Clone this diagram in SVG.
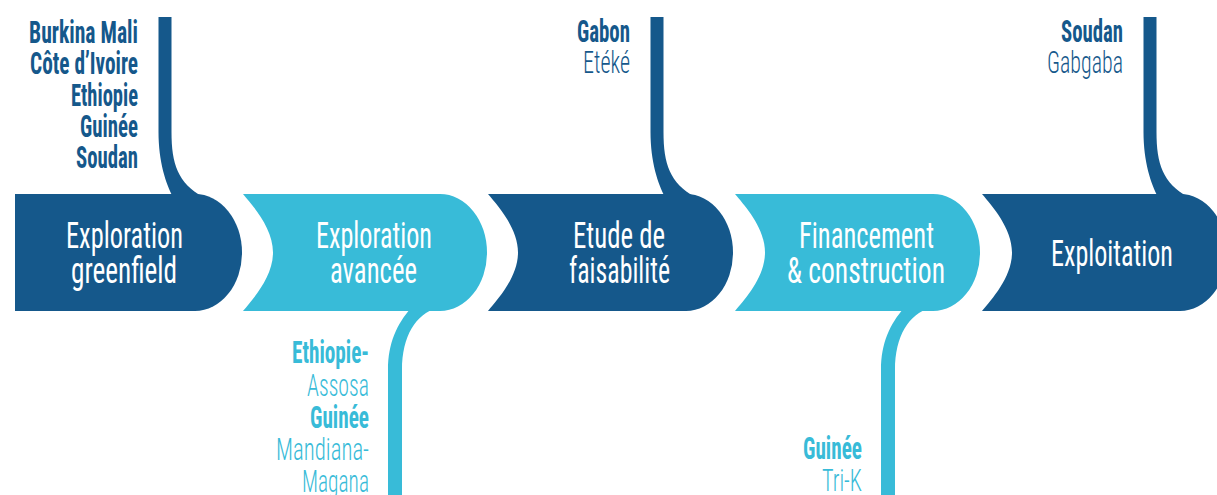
<svg xmlns="http://www.w3.org/2000/svg" width="1217" height="495" viewBox="0 0 1217 495">
  <style>
    .dark { fill: #15588b; }
    .light { fill: #38bbd8; }
    text { font-family: 'Roboto Condensed', 'Liberation Sans Narrow', 'DejaVu Sans Condensed', Roboto, sans-serif; }
    .box-label { fill: #ffffff; font-size: 36px; font-weight: 400; }
    .lbl { font-size: 31px; }
    .b { font-weight: 700; }
    .l { font-weight: 300; }
    .tdark { fill: #15588b; }
    .tlight { fill: #38bbd8; }
  </style>
  <rect x="0" y="0" width="1217" height="495" fill="#ffffff"/>

  <g id="connectors">
    <path class="dark" d="M158.5,17 H171.5 V132 C171.5,164 178,183 203,197 H173 C166,184 158.5,162 158.5,132 Z"/>
    <path class="dark" d="M650.5,17 H663.5 V132 C663.5,164 670,183 695,197 H665 C658,184 650.5,162 650.5,132 Z"/>
    <path class="dark" d="M1143.5,17 H1156.5 V132 C1156.5,164 1163,183 1188,197 H1158 C1151,184 1143.5,162 1143.5,132 Z"/>
    <path class="light" d="M388,495 V370 C388,343 397,324 411,308 H437 C416,314 402,336 402,370 V495 Z"/>
    <path class="light" d="M881,495 V370 C881,343 890,324 904,308 H930 C909,314 895,336 895,370 V495 Z"/>
  </g>

  <g id="node-exploration-greenfield">
    <path class="dark" d="M15,194 H195 A47,58.5 0 0 1 242,252.5 A47,58.5 0 0 1 195,311 H15 Z"/>
    <text class="box-label" x="66" y="248" textLength="117" lengthAdjust="spacingAndGlyphs">Exploration</text>
    <text class="box-label" x="71" y="283" textLength="106" lengthAdjust="spacingAndGlyphs">greenfield</text>
  </g>

  <g id="node-exploration-avancee">
    <path class="light" d="M243,194 H440 A47,58.5 0 0 1 487,252.5 A47,58.5 0 0 1 440,311 H243 C253,299 273,277 273,252.5 C273,228 253,206 243,194 Z"/>
    <text class="box-label" x="316" y="248" textLength="116" lengthAdjust="spacingAndGlyphs">Exploration</text>
    <text class="box-label" x="330" y="283" textLength="87" lengthAdjust="spacingAndGlyphs">avancée</text>
  </g>

  <g id="node-etude-faisabilite">
    <path class="dark" d="M488,194 H686 A47,58.5 0 0 1 733,252.5 A47,58.5 0 0 1 686,311 H488 C498,299 518,277 518,252.5 C518,228 498,206 488,194 Z"/>
    <text class="box-label" x="573" y="248" textLength="92" lengthAdjust="spacingAndGlyphs">Etude de</text>
    <text class="box-label" x="569" y="283" textLength="101" lengthAdjust="spacingAndGlyphs">faisabilité</text>
  </g>

  <g id="node-financement-construction">
    <path class="light" d="M735,194 H933 A47,58.5 0 0 1 980,252.5 A47,58.5 0 0 1 933,311 H735 C745,299 765,277 765,252.5 C765,228 745,206 735,194 Z"/>
    <text class="box-label" x="799" y="248" textLength="135" lengthAdjust="spacingAndGlyphs">Financement</text>
    <text class="box-label" x="787" y="283" textLength="158" lengthAdjust="spacingAndGlyphs">&amp; construction</text>
  </g>

  <g id="node-exploitation">
    <path class="dark" d="M982,194 H1180 A47,58.5 0 0 1 1227,252.5 A47,58.5 0 0 1 1180,311 H982 C992,299 1012,277 1012,252.5 C1012,228 992,206 982,194 Z"/>
    <text class="box-label" x="1051" y="266" textLength="122" lengthAdjust="spacingAndGlyphs">Exploitation</text>
  </g>

  <g id="label-greenfield">
    <text class="lbl b tdark" x="29" y="43" textLength="109" lengthAdjust="spacingAndGlyphs">Burkina Mali</text>
    <text class="lbl b tdark" x="30" y="74" textLength="108" lengthAdjust="spacingAndGlyphs">Côte d’Ivoire</text>
    <text class="lbl b tdark" x="71" y="105.5" textLength="67" lengthAdjust="spacingAndGlyphs">Ethiopie</text>
    <text class="lbl b tdark" x="80" y="137" textLength="58" lengthAdjust="spacingAndGlyphs">Guinée</text>
    <text class="lbl b tdark" x="76" y="168" textLength="62" lengthAdjust="spacingAndGlyphs">Soudan</text>
  </g>

  <g id="label-faisabilite">
    <text class="lbl b tdark" x="577" y="42" textLength="53" lengthAdjust="spacingAndGlyphs">Gabon</text>
    <text class="lbl l tdark" x="583" y="73" textLength="47" lengthAdjust="spacingAndGlyphs">Etéké</text>
  </g>

  <g id="label-exploitation">
    <text class="lbl b tdark" x="1061" y="42" textLength="62" lengthAdjust="spacingAndGlyphs">Soudan</text>
    <text class="lbl l tdark" x="1047" y="73" textLength="76" lengthAdjust="spacingAndGlyphs">Gabgaba</text>
  </g>

  <g id="label-avancee">
    <text class="lbl b tlight" x="292" y="363" textLength="77" lengthAdjust="spacingAndGlyphs">Ethiopie-</text>
    <text class="lbl l tlight" x="307" y="395.5" textLength="62" lengthAdjust="spacingAndGlyphs">Assosa</text>
    <text class="lbl b tlight" x="310" y="427.5" textLength="59" lengthAdjust="spacingAndGlyphs">Guinée</text>
    <text class="lbl l tlight" x="276" y="460" textLength="93" lengthAdjust="spacingAndGlyphs">Mandiana-</text>
    <text class="lbl l tlight" x="302" y="492" textLength="67" lengthAdjust="spacingAndGlyphs">Magana</text>
  </g>

  <g id="label-financement">
    <text class="lbl b tlight" x="803" y="459" textLength="59" lengthAdjust="spacingAndGlyphs">Guinée</text>
    <text class="lbl l tlight" x="822" y="491" textLength="40" lengthAdjust="spacingAndGlyphs">Tri-K</text>
  </g>
</svg>
